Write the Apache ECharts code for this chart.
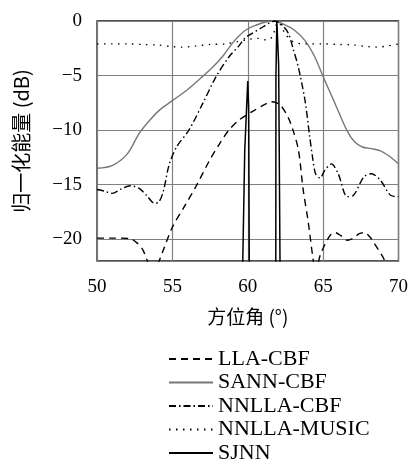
<!DOCTYPE html>
<html>
<head>
<meta charset="utf-8">
<script src="https://cdn.jsdelivr.net/npm/echarts@6/dist/echarts.min.js"></script>
<style>
html,body{margin:0;padding:0;background:#fff;}
#c{width:411px;height:466px;}
</style>
</head>
<body>
<div id="c"></div>
<script>
// ---- data (azimuth in degrees, normalized power in dB) ----
var seriesNames = ['LLA-CBF', 'SANN-CBF', 'NNLLA-CBF', 'NNLLA-MUSIC', 'SJNN'];
var xTicks = [50, 55, 60, 65, 70];
var yTicks = [0, -5, -10, -15, -20];

var llaX = [50, 51, 52.2, 52.7, 53.05, 53.4, 53.7, 54.0, 54.4, 55.0, 55.8, 56.55, 57.5, 58.2, 58.75, 59.4, 60.3, 61.2, 61.6, 62.15, 62.7, 63.0, 63.36, 63.68, 64.0, 64.34, 64.5, 64.8, 65.15, 65.5, 65.8, 66.2, 66.6, 67.0, 67.4, 67.75, 68.1, 68.4, 68.95, 69.3, 70];
var llaY = [-19.9, -19.9, -19.95, -20.4, -21.0, -22.2, -23.0, -22.4, -21.0, -18.9, -17.0, -15.2, -12.7, -11.1, -10.0, -9.1, -8.3, -7.6, -7.4, -7.7, -8.9, -10.0, -11.8, -15.5, -18.3, -21.9, -23.0, -21.5, -20.4, -19.6, -19.4, -19.7, -20.1, -19.9, -19.5, -19.4, -19.8, -20.4, -21.6, -22.5, -23.5];

var sannX = [50, 51, 52, 52.8, 53.5, 54.2, 55, 56, 57, 57.7, 58.3, 59, 59.4, 59.85, 60.5, 61.6, 62.4, 63.1, 63.8, 64.45, 65, 65.8, 66.6, 67.1, 67.6, 68.2, 68.8, 69.4, 70];
var sannY = [-13.5, -13.25, -12.2, -10.3, -9.1, -8.1, -7.3, -6.3, -5.1, -4.2, -3.3, -2.0, -1.4, -0.85, -0.4, 0, -0.3, -0.85, -1.8, -3.3, -5.1, -7.6, -10.1, -11.1, -11.55, -11.7, -11.9, -12.4, -13.1];

var nnllaCbfX = [50, 50.5, 51, 51.6, 52.2, 52.8, 53.3, 53.8, 54.1, 54.4, 54.8, 55.3, 56.1, 57, 57.9, 58.75, 59.4, 59.85, 60.1, 61, 61.8, 62.3, 62.7, 63.0, 63.35, 63.8, 64.1, 64.3, 64.5, 64.8, 65.1, 65.55, 66.0, 66.6, 67.0, 67.7, 68.2, 68.8, 69.5, 70];
var nnllaCbfY = [-15.45, -15.6, -15.8, -15.4, -15.1, -15.35, -16.0, -16.7, -16.6, -15.6, -13.1, -11.5, -10.0, -7.6, -5.1, -3.3, -2.3, -1.5, -1.3, -0.55, 0, -0.4, -1.15, -2.5, -4.2, -7.3, -10.5, -12.5, -14.0, -14.4, -13.7, -13.1, -14.0, -16.1, -16.0, -14.3, -14.0, -14.6, -16.0, -16.1];

var musicX = [50, 51, 52, 53, 54, 55, 55.6, 56.5, 57.5, 58.5, 59.3, 60, 60.7, 61.3, 61.65, 61.85, 62.0, 62.2, 62.5, 63.0, 63.8, 65, 66, 67, 68, 68.6, 69.2, 70];
var musicY = [-2.1, -2.1, -2.1, -2.15, -2.2, -2.35, -2.4, -2.3, -2.15, -2.1, -1.9, -1.7, -1.6, -1.75, -1.4, -0.5, -0.1, -0.4, -1.2, -1.9, -2.1, -2.1, -2.15, -2.2, -2.35, -2.4, -2.3, -2.1];

var sjnnX = [50, 59.6, 59.67, 59.8, 60.0, 60.06, 60.1, 60.15, 61.8, 61.86, 61.87, 61.93, 62.05, 62.14, 62.2, 70];
var sjnnY = [-60, -60, -22, -11.9, -5.5, -8, -22, -60, -60, -22, -5, 0, -4, -22, -60, -60];

function pairs(xs, ys) { return xs.map(function (x, i) { return [x, ys[i]]; }); }

var SERIF = '"Liberation Serif", "DejaVu Serif", serif';
var CJK = '"Noto Sans CJK SC", sans-serif';

var chart = echarts.init(document.getElementById('c'), null, { renderer: 'canvas' });
chart.setOption({
  animation: false,
  backgroundColor: '#ffffff',
  grid: {
    left: 97, right: 10, top: 21, height: 240,
    show: true, borderColor: '#1a1a1a', borderWidth: 1.3, backgroundColor: 'transparent'
  },
  legend: {
    orient: 'vertical',
    left: 168, top: 348, bottom: 0, padding: 0,
    itemWidth: 44, itemHeight: 12, itemGap: 1.5,
    itemStyle: { opacity: 0 },
    data: seriesNames,
    textStyle: { fontFamily: SERIF, fontSize: 22, color: '#000' }
  },
  xAxis: {
    type: 'value', min: xTicks[0], max: xTicks[xTicks.length - 1], interval: 5,
    name: '方位角 (°)', nameLocation: 'middle', nameGap: 46,
    nameTextStyle: { fontFamily: CJK, fontSize: 19, color: '#000' },
    axisLine: { show: false }, axisTick: { show: false },
    axisLabel: { margin: 17, fontFamily: SERIF, fontSize: 19, color: '#000' },
    splitLine: { show: true, lineStyle: { color: '#808080', width: 1.2 } }
  },
  yAxis: {
    type: 'value', min: -22, max: yTicks[0], splitNumber: 5,
    name: '归一化能量 (dB)', nameLocation: 'middle', nameGap: 66,
    nameTextStyle: { fontFamily: CJK, fontSize: 20, color: '#000' },
    axisLine: { show: false }, axisTick: { show: false },
    axisLabel: {
      margin: 15, fontFamily: SERIF, fontSize: 19, color: '#000',
      formatter: function (v) {
        if (yTicks.indexOf(v) < 0) return '';
        return v < 0 ? '\u2212' + Math.abs(v) : String(v);
      }
    },
    splitLine: { show: true, lineStyle: { color: '#808080', width: 1.2 } }
  },
  series: [
    { name: 'LLA-CBF', type: 'line', data: pairs(llaX, llaY), symbol: 'none', smooth: 0.3, clip: true,
      lineStyle: { color: '#000', width: 1.4, type: [7, 5] }, itemStyle: { color: '#000' } },
    { name: 'SANN-CBF', type: 'line', data: pairs(sannX, sannY), symbol: 'none', smooth: 0.3, clip: true,
      lineStyle: { color: '#777777', width: 1.4 }, itemStyle: { color: '#777777' } },
    { name: 'NNLLA-CBF', type: 'line', data: pairs(nnllaCbfX, nnllaCbfY), symbol: 'none', smooth: 0.3, clip: true,
      lineStyle: { color: '#000', width: 1.4, type: [7, 3, 1.5, 3] }, itemStyle: { color: '#000' } },
    { name: 'NNLLA-MUSIC', type: 'line', data: pairs(musicX, musicY), symbol: 'none', smooth: 0.3, clip: true,
      lineStyle: { color: '#000', width: 1.3, type: [1.5, 5.5] }, itemStyle: { color: '#000' } },
    { name: 'SJNN', type: 'line', data: pairs(sjnnX, sjnnY), symbol: 'none', smooth: false, clip: true,
      lineStyle: { color: '#000', width: 1.5 }, itemStyle: { color: '#000' } }
  ]
});
</script>
</body>
</html>
